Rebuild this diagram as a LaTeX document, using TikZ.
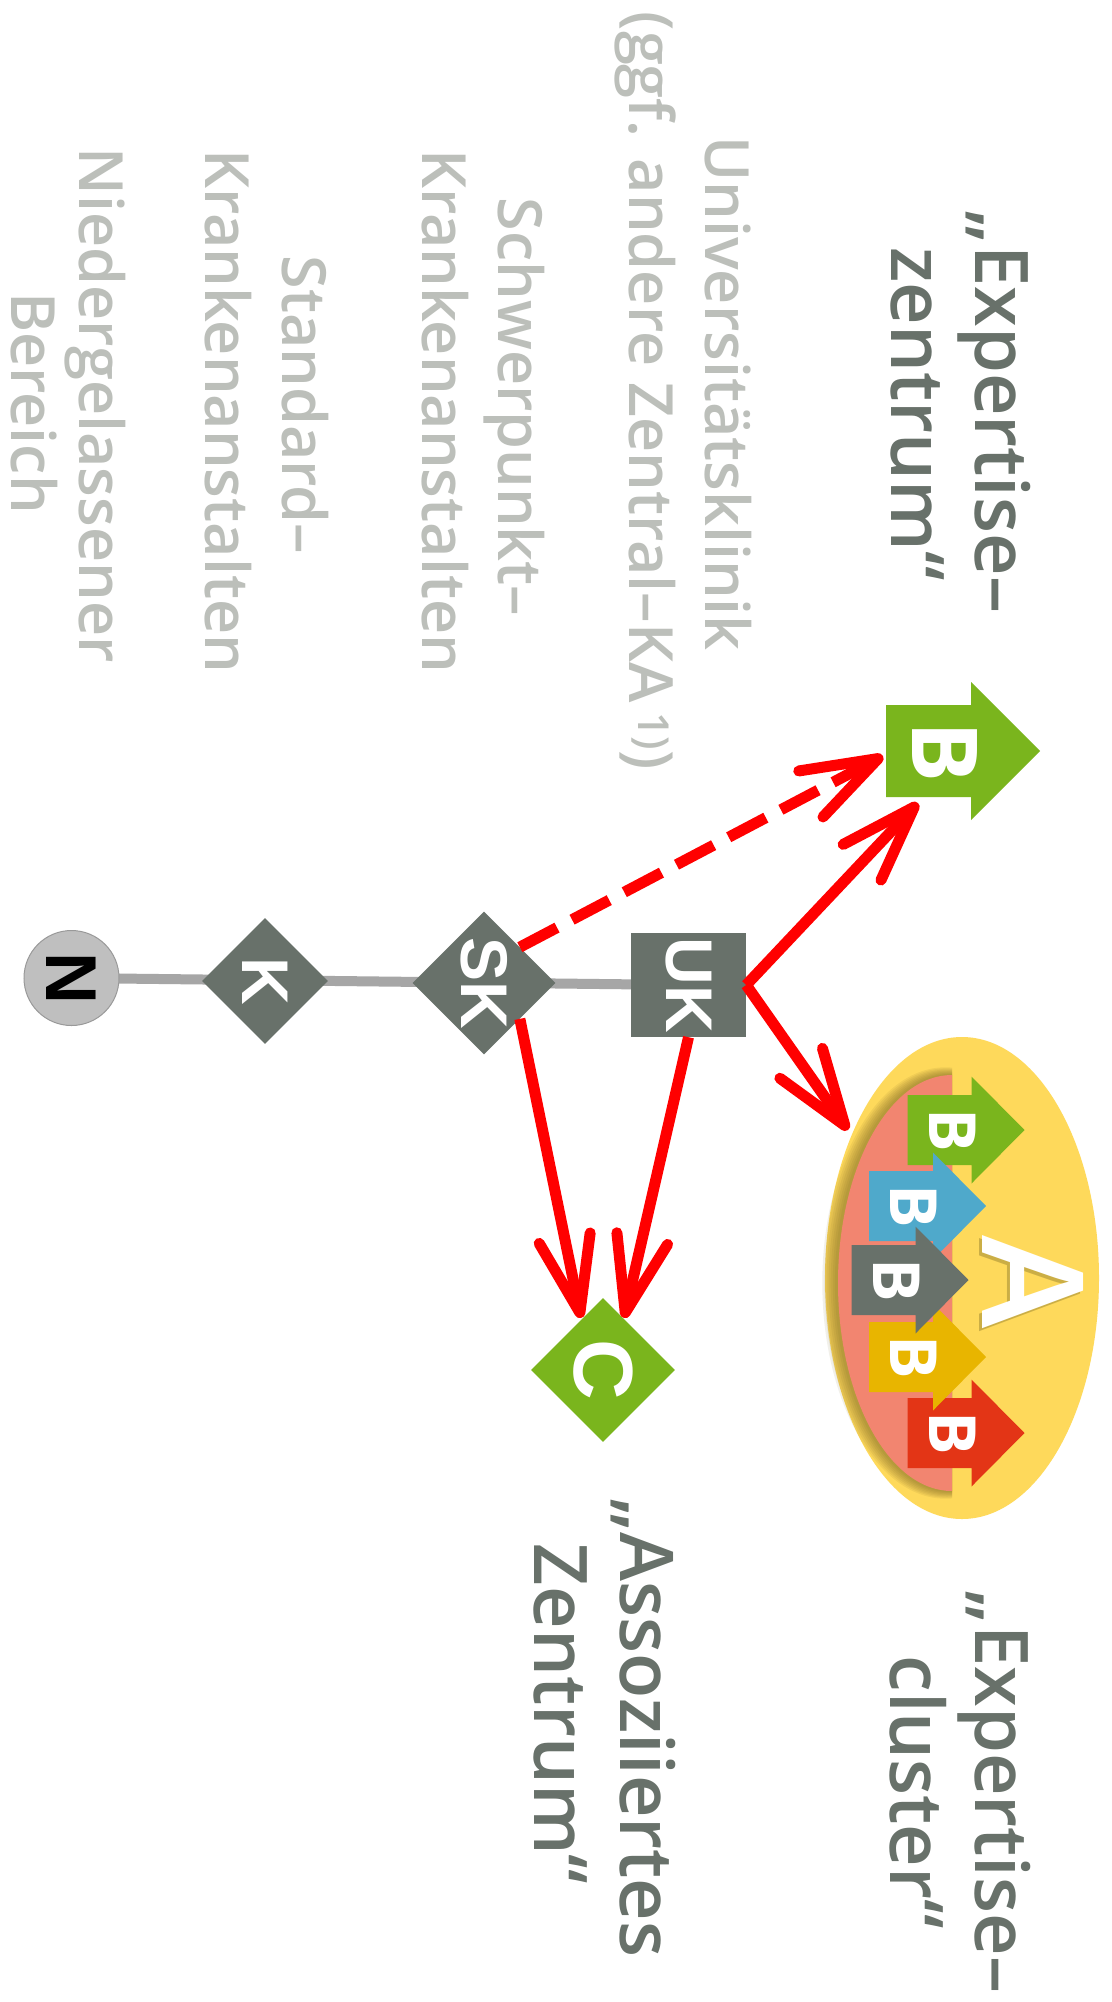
\documentclass[tikz,border=0pt]{standalone}
\usepackage{fontspec}
\setmainfont{Open Sans}
\newfontfamily\lsans{Liberation Sans}
\newfontfamily\titlefont{Open Sans}[UprightFont=* Semibold]
\usepackage{graphicx}
\usetikzlibrary{shapes.geometric,arrows.meta,backgrounds}
\definecolor{nodegray}{HTML}{68716A}
\definecolor{txtgray}{HTML}{BCBFBA}
\definecolor{linegray}{HTML}{A6A6A6}
\definecolor{arrred}{HTML}{FF0000}
\definecolor{bgreen}{HTML}{7AB51D}
\definecolor{bblue}{HTML}{4FA9CB}
\definecolor{byellow}{HTML}{E8B500}
\definecolor{bred}{HTML}{E33516}
\definecolor{ellyellow}{HTML}{FED95B}
\definecolor{salmon}{HTML}{F28570}
\definecolor{shadowolive}{HTML}{6E5E1E}
\definecolor{ncircle}{HTML}{BFBFBF}
\newcommand\clusterarrow[3]{%
  \fill[#3] (#1,#2-35) -- (#1+64,#2-35) -- (#1+64,#2-53.5) -- (#1+117,#2)
    -- (#1+64,#2+53.5) -- (#1+64,#2+35) -- (#1,#2+35) -- cycle;}
\begin{document}
\begin{tikzpicture}[x=1pt,y=-1pt,
  gtxt/.style={text=txtgray, font=\titlefont\fontsize{61}{74}\selectfont, rotate=-90, anchor=base, inner sep=0pt},
  ttxt/.style={text=nodegray, font=\titlefont\fontsize{74}{84}\selectfont, rotate=-90, anchor=base, inner sep=0pt},
  nodefont/.style={text=white, font=\lsans\bfseries\fontsize{66}{66}\selectfont},
  gdia/.style={diamond, fill=nodegray, inner sep=0pt, nodefont},
  gbox/.style={rectangle, fill=nodegray, minimum width=115pt, minimum height=104pt, inner sep=0pt, nodefont},
  cdia/.style={diamond, fill=bgreen, minimum width=144pt, minimum height=144pt, inner sep=0pt, text=white, font=\lsans\bfseries\fontsize{84}{84}\selectfont},
  ncirc/.style={circle, fill=ncircle, draw=gray!80, line width=1pt, minimum size=95pt, inner sep=0pt, text=black, font=\lsans\bfseries\fontsize{72}{72}\selectfont},
  bsm/.style={text=white, font=\bfseries\fontsize{65}{65}\selectfont, rotate=-90, inner sep=0pt},
  bbig/.style={text=white, font=\bfseries\fontsize{91}{91}\selectfont, rotate=-90, inner sep=0pt},
  greyline/.style={draw=linegray, line width=10pt},
  redarr/.style={draw=arrred, line width=11pt, -{Straight Barb[length=76pt, width=52pt, line cap=round, line join=round]}},
]
\useasboundingbox (0,0) rectangle (1111,2002);
\begin{pgfonlayer}{background}
\fill[white] (0,0) rectangle (1111,2002);
\end{pgfonlayer}

% gray row labels
\node[gtxt] (u1) at (705,393.5) {Universitätsklinik};
\node[gtxt] (u2) at (629,391) {(ggf. andere Zentral–KA\,\textsuperscript{1)})};
\node[gtxt] (s1) at (498,407) {Schwerpunkt–};
\node[gtxt] (s2) at (422,411) {Krankenanstalten};
\node[gtxt] (st1) at (282,405) {Standard–};
\node[gtxt] (st2) at (205,411) {Krankenanstalten};
\node[gtxt] (n1) at (79,405) {Niedergelassener};
\node[gtxt] (n2) at (12,403) {Bereich};

% titles
\node[ttxt] (ez1) at (975,412) {„Expertise–};
\node[ttxt] (ez2) at (891,414) {zentrum“};
\node[ttxt] (ec1) at (975,1792) {„Expertise–};
\node[ttxt] (ec2) at (890,1792) {cluster“};
\node[ttxt] (az1) at (620,1728) {„Assoziiertes};
\node[ttxt] (az2) at (534,1714) {Zentrum“};

% chain nodes
\node[ncirc] (N) at (71.5,978) {\rotatebox{-90}{N}};
\node[gdia, minimum width=126pt, minimum height=126pt] (K) at (265,981) {\rotatebox{-90}{K}};
\node[gdia, minimum width=143pt, minimum height=143pt] (SK) at (484,983) {\rotatebox{-90}{SK}};
\node[gbox] (UK) at (688.5,985) {\rotatebox{-90}{UK}};
\node[cdia] (C) at (603,1370) {\rotatebox{-90}{C}};
\begin{pgfonlayer}{background}
\draw[greyline] (N.center) -- (UK.center);
\end{pgfonlayer}

% big B arrow
\fill[bgreen] (886,705) -- (971,705) -- (971,682) -- (1040,751) -- (971,820) -- (971,797) -- (886,797) -- cycle;
\node[bbig] (Bbig) at (944.5,752) {B};

% cluster
\node[ellipse, fill=ellyellow, minimum width=274pt, minimum height=482pt, inner sep=0pt] (cluster) at (962,1278) {};
\begin{scope}
\clip (0,0) rectangle (952,2002);
\foreach \k in {7,6,...,1}
  \fill[shadowolive, opacity=0.09] (951-\k*0.8,1283) ellipse [x radius=114+\k*1.3, y radius=208+\k*1.1];
\fill[salmon] (952,1283) ellipse [x radius=114, y radius=208];
\end{scope}
\clusterarrow{907.5}{1130}{bgreen}
\clusterarrow{869}{1206}{bblue}
\clusterarrow{907.5}{1433}{bred}
\clusterarrow{869}{1357}{byellow}
\clusterarrow{851.5}{1280}{nodegray}
\node[bsm] (cb1) at (952.5,1130) {B};
\node[bsm] (cb2) at (914,1206) {B};
\node[bsm] (cb3) at (896.5,1280) {B};
\node[bsm] (cb4) at (914,1357) {B};
\node[bsm] (cb5) at (952.5,1433) {B};
\node[text=shadowolive, opacity=0.35, font=\titlefont\fontsize{141}{141}\selectfont, rotate=-90, anchor=base, inner sep=0pt] (Ash) at (979,1285) {A};
\node[text=white, font=\titlefont\fontsize{141}{141}\selectfont, rotate=-90, anchor=base, inner sep=0pt] (A) at (982,1282) {A};

% arrow tips
\coordinate (tipUKB) at (918,803);
\coordinate (tipSKB) at (883,756);
\coordinate (tipUKA) at (848,1130);
\coordinate (tipUKC) at (624,1318);
\coordinate (tipSKC) at (581,1318);

\draw[redarr] (UK.east) -- (tipUKB);
\draw[redarr, dash pattern=on 42pt off 17pt] (SK.north east) -- (tipSKB);
\draw[redarr] (UK.east) -- (tipUKA);
\draw[redarr] (UK.south) -- (tipUKC);
\draw[redarr] (SK.south east) -- (tipSKC);
\end{tikzpicture}
\end{document}
